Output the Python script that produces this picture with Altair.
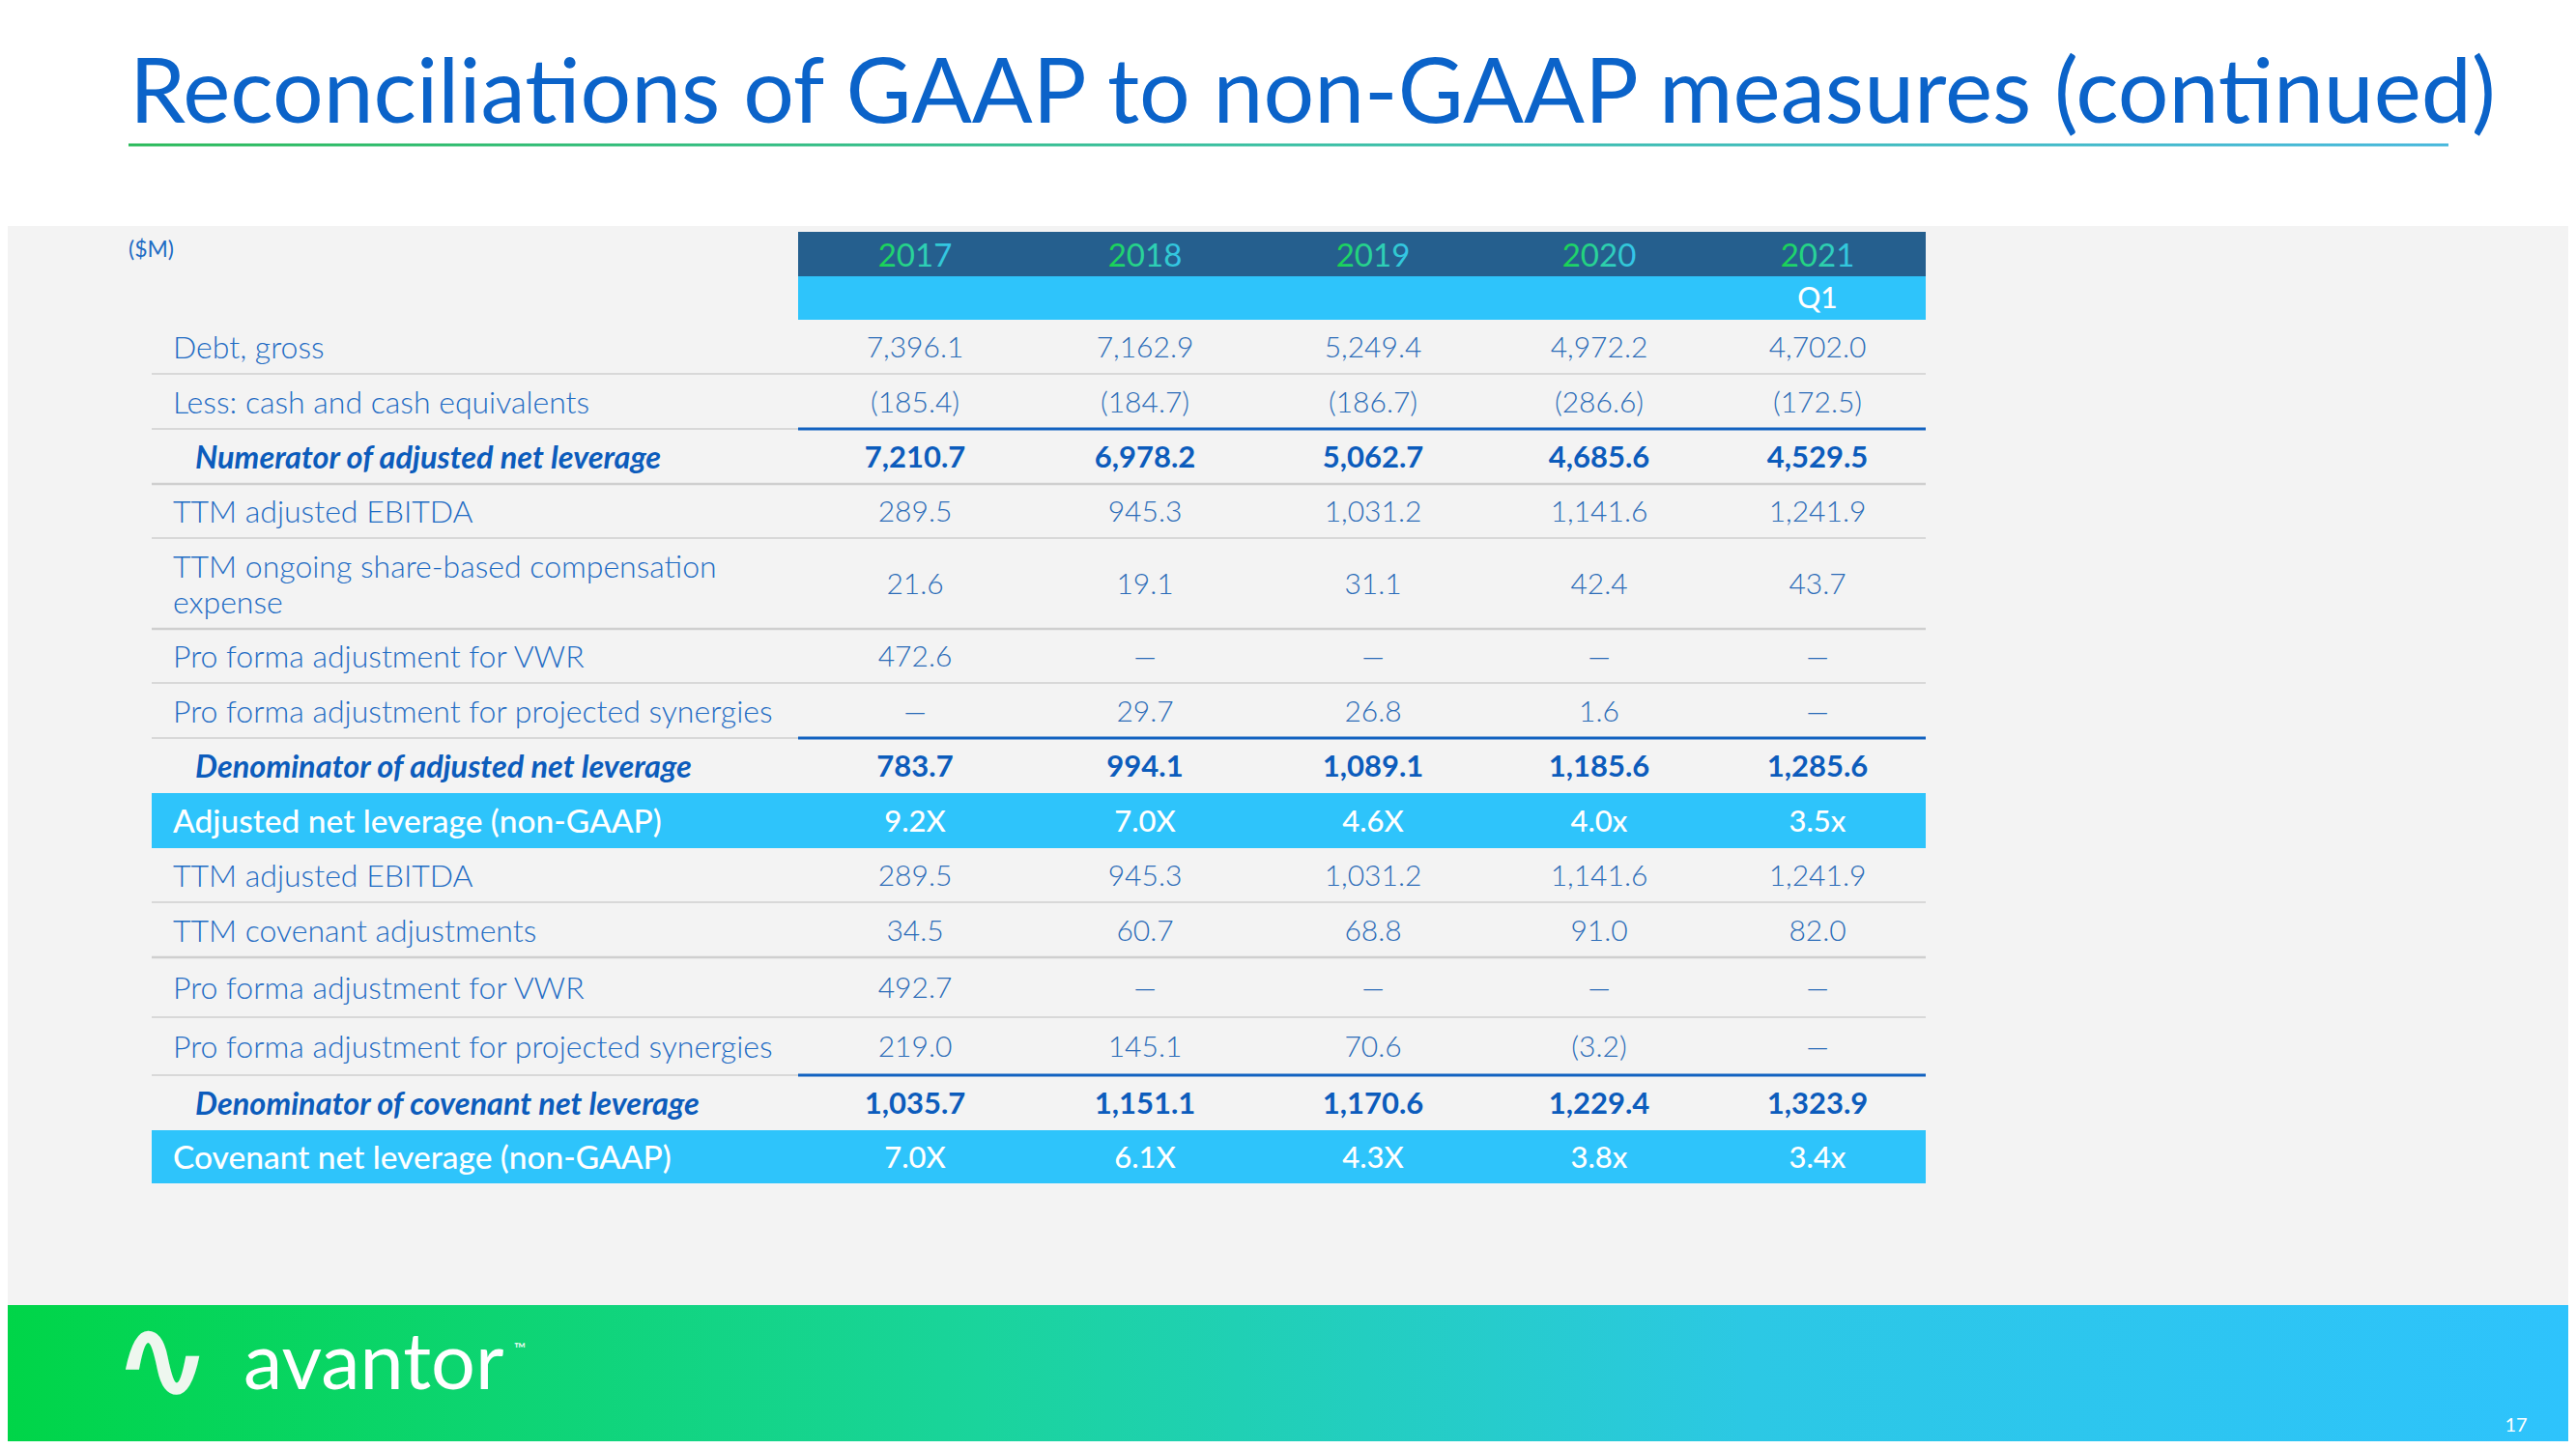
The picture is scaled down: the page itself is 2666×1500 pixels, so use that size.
import altair as alt
import pandas as pd

# ---------------- data ----------------
years = ["2017", "2018", "2019", "2020", "2021"]
sub_header = ["", "", "", "", "Q1"]
row_labels = [
    "Debt, gross",
    "Less: cash and cash equivalents",
    "Numerator of adjusted net leverage",
    "TTM adjusted EBITDA",
    "TTM ongoing share-based compensation\nexpense",
    "Pro forma adjustment for VWR",
    "Pro forma adjustment for projected synergies",
    "Denominator of adjusted net leverage",
    "Adjusted net leverage (non-GAAP)",
    "TTM adjusted EBITDA",
    "TTM covenant adjustments",
    "Pro forma adjustment for VWR",
    "Pro forma adjustment for projected synergies",
    "Denominator of covenant net leverage",
    "Covenant net leverage (non-GAAP)",
]
row_kind = ["n", "n", "t", "n", "n", "n", "n", "t", "h", "n", "n", "n", "n", "t", "h"]

debt_gross = [7396.1, 7162.9, 5249.4, 4972.2, 4702.0]
cash = [-185.4, -184.7, -186.7, -286.6, -172.5]
numerator = [7210.7, 6978.2, 5062.7, 4685.6, 4529.5]
ttm_ebitda = [289.5, 945.3, 1031.2, 1141.6, 1241.9]
sbc = [21.6, 19.1, 31.1, 42.4, 43.7]
vwr_adj = [472.6, None, None, None, None]
synergies_adj = [None, 29.7, 26.8, 1.6, None]
denominator_adj = [783.7, 994.1, 1089.1, 1185.6, 1285.6]
adj_leverage = ["9.2X", "7.0X", "4.6X", "4.0x", "3.5x"]
covenant_adj = [34.5, 60.7, 68.8, 91.0, 82.0]
vwr_cov = [492.7, None, None, None, None]
synergies_cov = [219.0, 145.1, 70.6, -3.2, None]
denominator_cov = [1035.7, 1151.1, 1170.6, 1229.4, 1323.9]
cov_leverage = ["7.0X", "6.1X", "4.3X", "3.8x", "3.4x"]

rows_values = [debt_gross, cash, numerator, ttm_ebitda, sbc, vwr_adj, synergies_adj,
               denominator_adj, adj_leverage, ttm_ebitda, covenant_adj, vwr_cov,
               synergies_cov, denominator_cov, cov_leverage]

title_text = "Reconciliations of GAAP to non-GAAP measures (continued)"
unit_text = "($M)"
brand_text = "avantor"
page_text = "17"


def fmt(v):
    if v is None:
        return "—"
    if isinstance(v, str):
        return v
    s = f"{abs(v):,.1f}"
    return f"({s})" if v < 0 else s


# ---------------- layout (page pixels) ----------------
W, H = 2650, 1484
OFF = 8
FONT = "Lato"
LINE_H = 37


def px(v):
    return v - OFF


col_centers = [947, 1185, 1421, 1655, 1881]
TABLE_LEFT, VAL_LEFT, TABLE_RIGHT = 157, 826, 1993
TABLE_TOP = 331
ROW_H = [56, 57, 57, 56, 94, 56, 57, 57, 57, 56, 57, 62, 60, 57, 55]
tops = []
t = TABLE_TOP
for h in ROW_H:
    tops.append(t)
    t += h
centers = [tp + h / 2 for tp, h in zip(tops, ROW_H)]
bottoms = [tp + h for tp, h in zip(tops, ROW_H)]

C_LABEL = "#1f6cc4"
C_VALUE = "#2b6cb8"
C_TOTAL = "#0c5cbc"
C_TITLE = "#0b63c9"
C_GRID = "#cfcfcf"
C_BLUE_LINE = "#1262c0"
C_DARK = "#255f8e"
C_LIGHT = "#2ec4fb"
C_BG = "#f3f3f3"

xs = alt.Scale(domain=[0, W], range=[0, W], nice=False, zero=False)
ys = alt.Scale(domain=[0, H], range=[0, H], nice=False, zero=False)


def enc_xy():
    return dict(x=alt.X("x:Q", scale=xs, axis=None), y=alt.Y("y:Q", scale=ys, axis=None))


# ---------------- rectangles ----------------
rects = [
    dict(x=0, x2=W, y=px(234), y2=px(1351), c=C_BG),
    dict(x=px(VAL_LEFT), x2=px(TABLE_RIGHT), y=px(240), y2=px(286), c=C_DARK),
    dict(x=px(VAL_LEFT), x2=px(TABLE_RIGHT), y=px(286), y2=px(TABLE_TOP), c=C_LIGHT),
]
for i, k in enumerate(row_kind):
    if k == "h":
        rects.append(dict(x=px(TABLE_LEFT), x2=px(TABLE_RIGHT), y=px(tops[i]),
                          y2=px(bottoms[i]), c=C_LIGHT))
rect_df = pd.DataFrame(rects)
rect_layer = alt.Chart(rect_df).mark_rect().encode(
    x=alt.X("x:Q", scale=xs, axis=None), x2="x2:Q",
    y=alt.Y("y:Q", scale=ys, axis=None), y2="y2:Q",
    color=alt.Color("c:N", scale=None),
)

footer = alt.Chart(pd.DataFrame([dict(x=0, x2=W, y=px(1351), y2=H)])).mark_rect(
    color=alt.Gradient(gradient="linear", x1=0, x2=1, y1=0, y2=0, stops=[
        alt.GradientStop(color="#00d548", offset=0),
        alt.GradientStop(color="#1ad49c", offset=0.38),
        alt.GradientStop(color="#2cc8e4", offset=0.68),
        alt.GradientStop(color="#2ec3fc", offset=1),
    ])
).encode(x=alt.X("x:Q", scale=xs, axis=None), x2="x2:Q",
         y=alt.Y("y:Q", scale=ys, axis=None), y2="y2:Q")

underline = alt.Chart(pd.DataFrame([dict(x=px(133), x2=px(2534), y=px(148.5), y2=px(151.5))])).mark_rect(
    color=alt.Gradient(gradient="linear", x1=0, x2=1, y1=0, y2=0, stops=[
        alt.GradientStop(color="#2dbb5c", offset=0),
        alt.GradientStop(color="#3cc0a4", offset=0.5),
        alt.GradientStop(color="#48b8dc", offset=1),
    ])
).encode(x=alt.X("x:Q", scale=xs, axis=None), x2="x2:Q",
         y=alt.Y("y:Q", scale=ys, axis=None), y2="y2:Q")

# ---------------- separator rules ----------------
rules = []
thick_after = {2, 4, 10}
for i in range(len(row_kind) - 1):
    if row_kind[i + 1] == "h" or row_kind[i] == "h":
        continue
    y = px(bottoms[i])
    w = 2.6 if i in thick_after else 1.6
    if row_kind[i + 1] == "t":
        rules.append(dict(x=px(TABLE_LEFT), x2=px(VAL_LEFT), y=y, c=C_GRID, w=w))
        rules.append(dict(x=px(VAL_LEFT), x2=px(TABLE_RIGHT), y=y, c=C_BLUE_LINE, w=3.2))
    else:
        rules.append(dict(x=px(TABLE_LEFT), x2=px(TABLE_RIGHT), y=y, c=C_GRID, w=w))
rule_df = pd.DataFrame(rules)
rule_layer = alt.Chart(rule_df).mark_rule().encode(
    x=alt.X("x:Q", scale=xs, axis=None), x2="x2:Q",
    y=alt.Y("y:Q", scale=ys, axis=None),
    color=alt.Color("c:N", scale=None),
    strokeWidth=alt.StrokeWidth("w:Q", scale=None),
)

# ---------------- text ----------------
lab_n, lab_t, lab_h, val_n, val_t, val_h = [], [], [], [], [], []
for i, (lab, k) in enumerate(zip(row_labels, row_kind)):
    cy = px(centers[i]) + 2
    n_lines = lab.count("\n") + 1
    ly = cy - (n_lines - 1) * LINE_H / 2
    if k == "t":
        lab_t.append(dict(x=px(202), y=ly, t=lab))
    elif k == "h":
        lab_h.append(dict(x=px(179), y=ly, t=lab))
    else:
        lab_n.append(dict(x=px(179), y=ly, t=lab))
    for j, v in enumerate(rows_values[i]):
        d = dict(x=px(col_centers[j]), y=cy, t=fmt(v))
        {"n": val_n, "t": val_t, "h": val_h}[k].append(d)


def tlayer(rows, **mk):
    return alt.Chart(pd.DataFrame(rows)).mark_text(font=FONT, baseline="middle", **mk).encode(
        text="t:N", **enc_xy())


layers_text = [
    tlayer(lab_n, align="left", fontSize=32, fontWeight=300, color=C_LABEL, lineBreak="\n",
           lineHeight=LINE_H),
    tlayer(lab_t, align="left", fontSize=32.5, fontWeight="bold", fontStyle="italic", color=C_TOTAL),
    tlayer(lab_h, align="left", fontSize=33.5, fontWeight=500, color="white"),
    tlayer(val_n, align="center", fontSize=30, fontWeight=300, color=C_VALUE),
    tlayer(val_t, align="center", fontSize=31, fontWeight="bold", color=C_TOTAL),
    tlayer(val_h, align="center", fontSize=31, fontWeight=500, color="white"),
]

year_rows = [dict(x=px(c), y=px(266), t=yv) for c, yv in zip(col_centers, years)]
year_layer = tlayer(year_rows, align="center", fontSize=33, fontWeight=400,
                    color=alt.Gradient(gradient="linear", x1=0, x2=1, y1=0, y2=0, stops=[
                        alt.GradientStop(color="#18d34e", offset=0),
                        alt.GradientStop(color="#2bd3a0", offset=0.5),
                        alt.GradientStop(color="#35c4f0", offset=1),
                    ]))
q_rows = [dict(x=px(c), y=px(310), t=s) for c, s in zip(col_centers, sub_header) if s]
q_layer = tlayer(q_rows, align="center", fontSize=30, fontWeight=500, color="white")

title_layer = alt.Chart(pd.DataFrame([dict(x=px(134), y=px(127), t=title_text)])).mark_text(
    font=FONT, fontSize=93, align="left", baseline="alphabetic", color=C_TITLE
).encode(text="t:N", **enc_xy())

unit_layer = tlayer([dict(x=px(133), y=px(259), t=unit_text)], align="left", fontSize=23,
                    color=C_LABEL)

logo_layer = alt.Chart(pd.DataFrame([dict(x=px(168), y=px(1412), t="∿")])).mark_text(
    font="DejaVu Sans", fontSize=122, fontWeight="bold", fontStyle="italic", align="center",
    baseline="middle", color="#eef7ef"
).encode(text="t:N", **enc_xy())

brand_layer = alt.Chart(pd.DataFrame([dict(x=px(252), y=px(1438), t=brand_text)])).mark_text(
    font=FONT, fontSize=81, align="left", baseline="alphabetic", color="white"
).encode(text="t:N", **enc_xy())

tm_layer = alt.Chart(pd.DataFrame([dict(x=px(532), y=px(1402), t="™")])).mark_text(
    font=FONT, fontSize=16, align="left", baseline="alphabetic", color="white"
).encode(text="t:N", **enc_xy())

page_layer = alt.Chart(pd.DataFrame([dict(x=px(2604), y=px(1482), t=page_text)])).mark_text(
    font=FONT, fontSize=20, align="center", baseline="alphabetic", color="white"
).encode(text="t:N", **enc_xy())

chart = alt.layer(
    rect_layer, footer, underline, rule_layer, *layers_text, year_layer, q_layer,
    title_layer, unit_layer, logo_layer, brand_layer, tm_layer, page_layer,
).properties(
    width=W, height=H, padding=0, autosize="none", background="white"
).configure_view(stroke=None)

chart.save("out.html", embed_options={"renderer": "svg", "actions": False})
